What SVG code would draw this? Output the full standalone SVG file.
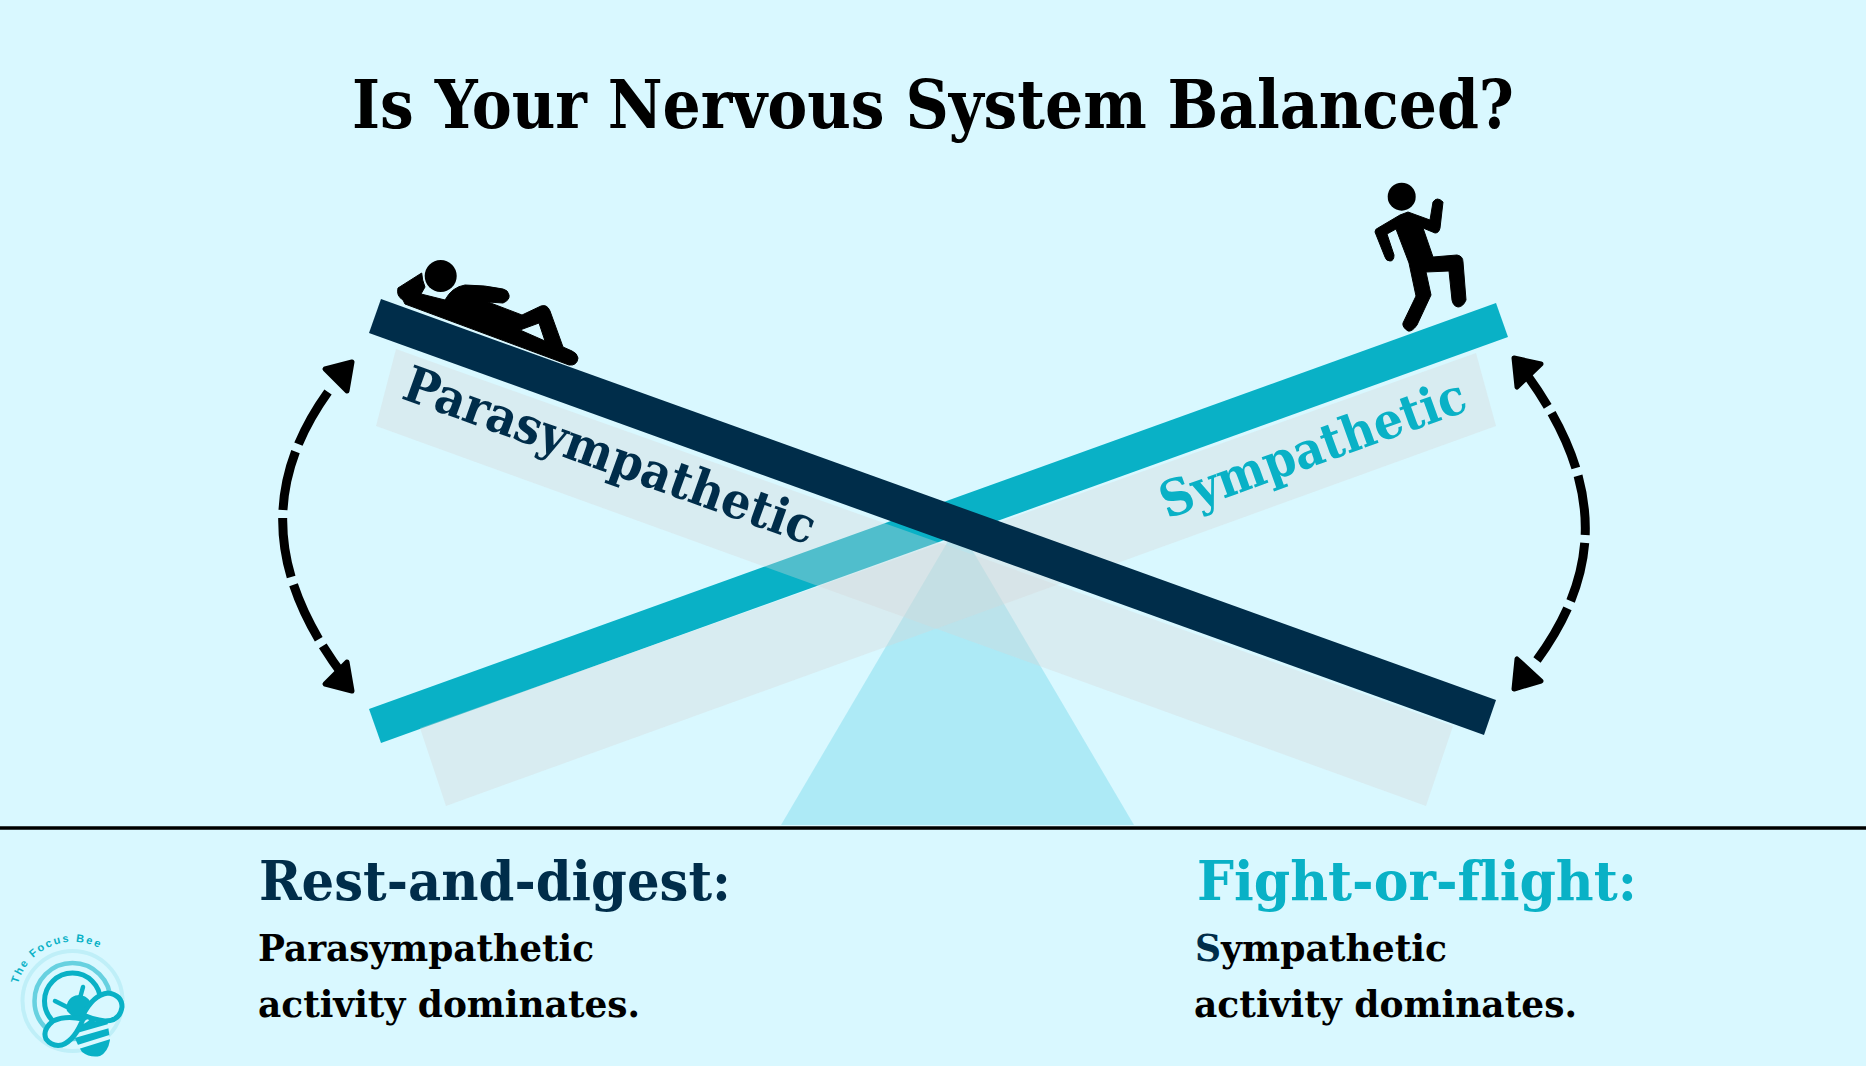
<svg xmlns="http://www.w3.org/2000/svg" width="1866" height="1066" viewBox="0 0 1866 1066">
<defs>
<style>
.t{font-family:"DejaVu Serif","Liberation Serif",serif;font-weight:700;font-stretch:condensed;font-variant-ligatures:none}
.h{font-size:68px;fill:#000}
.b{font-size:37px;fill:#000}
.dark{fill:#002d4a}
.teal{fill:#09b1c6}
.grey{fill:#d7d7d7;fill-opacity:.35}
.arc{fill:none;stroke:#000;stroke-width:9;stroke-dasharray:60 8}
.head{fill:#000;stroke:#000;stroke-width:5;stroke-linejoin:round}
.fig{fill:#000;stroke:#000;stroke-width:1;stroke-linejoin:round;fill-rule:evenodd}
.wing{fill:#d9f8ff;stroke:#09b1c6;stroke-width:5;stroke-linejoin:round}
</style>
<path id="logoArc" d="M18 984A57 57 0 0 1 130 1001"/>
</defs>
<rect width="1866" height="1066" fill="#d9f8ff"/>
<g id="fulcrum"><polygon points="957.500,525 1134,825 781,825" fill="#00b4d0" fill-opacity=".2"/></g>
<g id="sympathetic-beam"><polygon class="teal" points="369,709 1496,303 1508,337 381,743"/></g>
<g id="shadows">
<polygon class="grey" points="396,349 1453,726 1426,806 376,426"/>
<polygon class="grey" points="1476,353 1496,426 446,806 420,728"/>
</g>
<g id="parasympathetic-beam"><polygon class="dark" points="381,299 1496,700 1484,735 369,333"/></g>
<line id="ground" x1="0" y1="828" x2="1866" y2="828" stroke="#000" stroke-width="3.500"/>
<g id="resting-person">
<circle cx="440.700" cy="276" r="16"/>
<path class="fig" d="M398 288Q396 296 403 300L405 304L569 365Q577 366 578 358Q577 353 572 351L563 347L550 311Q547 304 541 306L522 315L488 302L503 303Q510 300 509 295Q508 290 503 289Q485 285 465 285Q452 287 445 300L421 294L425 287Q422 280 421.700 273ZM520 330L539 323L545 341Z"/>
</g>
<g id="running-person">
<circle cx="1401.700" cy="196.700" r="14"/>
<path class="fig" d="M1408 212L1430 220L1433 202Q1437 196 1443 202L1440 228Q1439 233 1435 233L1423 228L1433 257L1457 255Q1463 256 1463 262L1466 300Q1463 307 1458 307Q1453 306 1452 300L1449 271L1426 272L1431 295L1417 325Q1412 332 1408 331Q1402 327 1403 323L1416 296L1409 263L1396 229L1387 234L1394 255Q1394 261 1390 261Q1386 261 1385 257L1375 232Q1375 229 1378 228L1400 215Z"/>
</g>
<g id="connectors">
<path class="arc" d="M328 392C265 480 265 573 345 678"/>
<polygon class="head" points="325,369 352,362 347,391"/>
<polygon class="head" points="325,684 352,691 347,662"/>
<path class="arc" d="M1537 660C1603 570 1603 480 1527 375"/>
<polygon class="head" points="1514,358 1541,364 1517,387"/>
<polygon class="head" points="1514,689 1541,681 1517,659"/>
</g>
<g id="title"><text class="t h" x="352" y="128" textLength="1162" lengthAdjust="spacingAndGlyphs">Is Your Nervous System Balanced?</text></g>
<g id="beam-labels">
<text class="t" font-size="50" fill="#002d4a" transform="translate(400 398) rotate(19.800)" textLength="434" lengthAdjust="spacingAndGlyphs">Parasympathetic</text>
<text class="t" font-size="50" fill="#09b1c6" transform="translate(1167 519) rotate(-19.800)" textLength="322" lengthAdjust="spacingAndGlyphs">Sympathetic</text>
</g>
<g id="rest-text">
<text class="t" font-size="55" fill="#002d4a" x="259" y="900" textLength="472" lengthAdjust="spacingAndGlyphs">Rest-and-digest:</text>
<text class="t b" x="258" y="961" textLength="336" lengthAdjust="spacingAndGlyphs">Parasympathetic</text>
<text class="t b" x="258" y="1017" textLength="382" lengthAdjust="spacingAndGlyphs">activity dominates.</text>
</g>
<g id="fight-text">
<text class="t" font-size="55" fill="#09b1c6" x="1197" y="900" textLength="440" lengthAdjust="spacingAndGlyphs">Fight-or-flight:</text>
<text class="t b" x="1195" y="961" textLength="252" lengthAdjust="spacingAndGlyphs"><tspan fill="#002d4a">S</tspan>ympathetic</text>
<text class="t b" x="1194" y="1017" textLength="383" lengthAdjust="spacingAndGlyphs">activity dominates.</text>
</g>
<g id="logo">
<text font-family="Liberation Sans,sans-serif" font-size="11" font-weight="700" fill="#09b1c6" letter-spacing="1.900"><textPath href="#logoArc">The Focus Bee</textPath></text>
<circle cx="72.500" cy="1001" r="50" fill="none" stroke="#09b1c6" stroke-opacity=".12" stroke-width="4"/>
<circle cx="72.500" cy="1001" r="38" fill="none" stroke="#09b1c6" stroke-opacity=".55" stroke-width="4.500"/>
<circle cx="72.500" cy="1001" r="28" fill="none" stroke="#09b1c6" stroke-width="5"/>
<path d="M73 1028L107 1018L110 1040Q108 1052 100 1056Q90 1058 82 1052Q74 1040 73 1028Z" fill="#09b1c6"/>
<path d="M74 1036L109 1026M78 1047L110 1037" stroke="#d9f8ff" stroke-width="4" fill="none"/>
<path d="M80 998L83 987M67 1007L55 1001" stroke="#09b1c6" stroke-width="4.500" stroke-linecap="round"/>
<path d="M67 1011A12 12 0 0 1 91 1004L89 1018L80 1024Z" fill="#09b1c6"/>
<path class="wing" d="M83 1015Q93 995 108 993Q122 995 122 1007Q120 1021 105 1021Q95 1020 83 1015Z"/>
<path class="wing" d="M83 1019Q65 1015 53 1021Q42 1030 46 1039Q52 1047 62 1045Q75 1040 83 1019Z"/>
</g>
</svg>
